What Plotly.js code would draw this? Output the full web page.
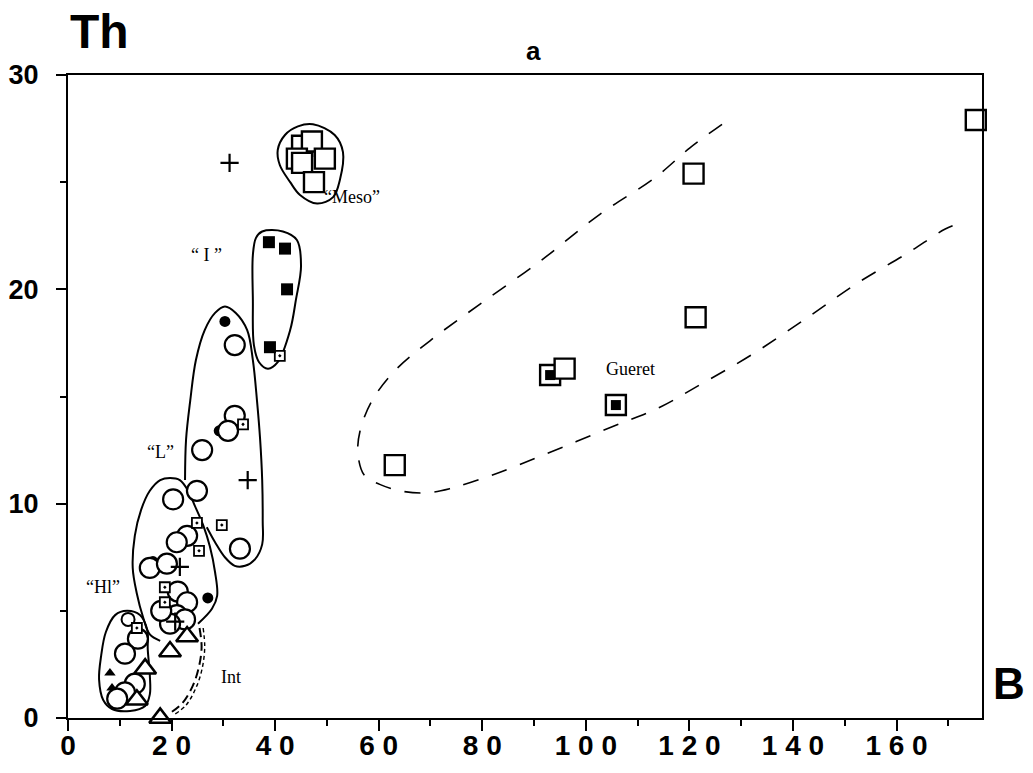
<!DOCTYPE html>
<html>
<head>
<meta charset="utf-8">
<script src="https://cdn.plot.ly/plotly-3.0.1.min.js"></script>
<style>html,body{margin:0;padding:0;background:#fff;}#chart{width:1033px;height:773px;}</style>
</head>
<body>
<div id="chart"></div>
<script>
// ---- data (B on x, Th on y) ----
var xTickVals = [0, 20, 40, 60, 80, 100, 120, 140, 160];
var xTickText = ["0", "2 0", "4 0", "6 0", "8 0", "1 0 0", "1 2 0", "1 4 0", "1 6 0"];
var yTickVals = [0, 10, 20, 30];
var yTickText = ["0", "10", "20", "30"];

// open circles
var circleX = [32.2, 32.2, 30.9, 25.9, 20.3, 24.9, 23.0, 21.0, 33.2, 15.8, 19.1, 21.2, 23.0, 21.0, 22.6, 19.7, 13.5, 11.0, 12.9, 11.0, 9.5, 18.0];
var circleY = [17.4, 14.1, 13.4, 12.5, 10.2, 10.6, 8.5, 8.2, 7.9, 7.0, 7.2, 5.9, 5.4, 4.8, 4.6, 4.4, 3.7, 3.0, 1.6, 1.2, 0.9, 5.0];
var smallCircleX = [11.6];
var smallCircleY = [4.6];
// filled circles
var dotX = [30.3, 29.2, 16.4, 27.0, 17.5];
var dotY = [18.5, 13.4, 7.3, 5.6, 5.1];
// small squares with centre dot
var sqDotX = [40.9, 33.8, 24.9, 29.7, 25.3, 18.7, 18.7, 13.3];
var sqDotY = [16.9, 13.7, 9.1, 9.0, 7.8, 6.1, 5.4, 4.2];
// open triangles
var triX = [23.0, 19.7, 14.9, 13.3, 17.8];
var triY = [3.8, 3.1, 2.3, 0.85, 0.0];
// filled triangles
var triFillX = [8.1, 8.5, 8.7];
var triFillY = [2.1, 1.4, 0.8];
// plus signs
var plusX = [31.2, 34.7, 21.6, 20.7];
var plusY = [25.9, 11.1, 7.05, 4.5];
// filled squares
var fillSqX = [38.8, 41.9, 42.3, 39.0];
var fillSqY = [22.2, 21.9, 20.0, 17.3];
// open squares
var openSqX = [45.2, 47.1, 44.2, 45.2, 49.6, 47.5, 63.1, 95.9, 120.8, 121.2, 175.3];
var openSqY = [26.7, 26.9, 26.1, 25.9, 26.1, 25.0, 11.8, 16.3, 25.4, 18.7, 27.9];
// squares with a filled square inside (Gueret)
var gueretX = [93.1, 105.8];
var gueretY = [16.0, 14.6];

// ---- group outlines (data units) ----
var mesoOutX = [47.3, 51.5, 53.1, 52.5, 51.2, 48.1, 44.8, 42.9, 40.9, 40.5, 41.9, 44.4, 47.3];
var mesoOutY = [27.7, 27.2, 26.4, 25.1, 24.3, 24.0, 24.4, 25.0, 25.8, 26.5, 27.2, 27.6, 27.7];
var sqOutX = [37.5, 41.5, 44.2, 45.0, 44.0, 42.9, 40.5, 38.6, 36.9, 35.9, 35.7, 35.7, 36.3, 37.5];
var sqOutY = [22.7, 22.7, 22.3, 21.1, 19.5, 18.1, 16.6, 16.3, 16.6, 17.4, 19.5, 21.6, 22.4, 22.7];
var iOutX = [22.6, 22.8, 23.6, 24.7, 26.4, 28.4, 30.3, 32.4, 34.6, 35.7, 36.5, 37.1, 37.5, 37.6, 37.5, 36.1, 34.2, 32.2, 30.3, 28.4, 26.8];
var iOutY = [11.1, 13.0, 14.8, 16.7, 18.1, 18.9, 19.2, 18.9, 18.1, 16.7, 14.8, 13.0, 11.1, 9.2, 8.1, 7.4, 7.1, 7.1, 7.5, 8.2, 8.9];
var lOutX = [17.8, 15.8, 14.5, 13.3, 12.5, 12.9, 14.1, 15.8, 17.8, 19.7, 21.6, 23.2, 24.5, 26.1, 27.4, 28.4, 28.8, 27.8, 25.1];
var lOutY = [3.6, 3.9, 4.7, 5.8, 7.0, 8.5, 9.7, 10.6, 11.1, 11.2, 11.1, 10.6, 9.9, 9.0, 8.0, 6.8, 5.7, 5.1, 4.4];
var hlOutX = [11.4, 13.9, 15.3, 15.4, 15.8, 15.8, 14.9, 12.0, 8.5, 6.8, 6.0, 6.4, 7.3, 9.1, 11.4];
var hlOutY = [5.0, 4.8, 4.1, 3.2, 2.0, 1.1, 0.56, 0.33, 0.42, 0.84, 1.8, 2.9, 4.0, 4.8, 5.0];
var intAX = [26.1, 26.4, 25.9, 24.7, 22.8, 20.7];
var intAY = [4.2, 3.3, 2.3, 1.4, 0.6, 0.19];
var intBX = [25.4, 25.8, 25.2, 24.0, 22.1, 20.0];
var intBY = [4.2, 3.3, 2.3, 1.45, 0.7, 0.28];
var gueretOutX = [126.3, 120.1, 113.3, 102.7, 91.1, 79.5, 69.9, 63.1, 58.7, 56.4, 56.0, 57.3, 60.2, 64.1, 68.9, 73.7, 81.5, 92.1, 105.2, 114.3, 122.4, 131.7, 142.9, 152.5, 162.2, 169.3, 172.2];
var gueretOutY = [27.7, 26.6, 25.2, 23.5, 21.3, 19.3, 17.6, 16.2, 14.8, 13.4, 12.3, 11.3, 10.9, 10.6, 10.5, 10.7, 11.3, 12.3, 13.6, 14.5, 15.6, 16.9, 18.7, 20.3, 21.7, 22.8, 23.1];

// ---- labels ----
var groupLabels = ["“Meso”", "“ I ”", "“L”", "“Hl”", "Gueret", "Int"];
var groupLabelX = [54.8, 26.8, 17.8, 6.8, 108.7, 31.5];
var groupLabelY = [24.3, 21.6, 12.4, 6.1, 16.3, 1.9];

// ---- build ----
var BLACK = "#000";
function outline(x, y, dash, w) {
  return {x: x, y: y, type: "scatter", mode: "lines", hoverinfo: "skip",
    line: {color: BLACK, width: w || 2, shape: "spline", smoothing: 1, dash: dash || "solid"},
    cliponaxis: false};
}
function pts(x, y, symbol, size, fill, lw) {
  return {x: x, y: y, type: "scatter", mode: "markers", cliponaxis: false,
    marker: {symbol: symbol, size: size, color: fill, line: {color: BLACK, width: lw}}};
}
var traces = [
  outline(mesoOutX, mesoOutY),
  outline(sqOutX, sqOutY),
  outline(iOutX, iOutY),
  outline(lOutX, lOutY),
  outline(hlOutX, hlOutY),
  outline(intAX, intAY, "4px,3px", 1.4),
  outline(intBX, intBY, "9px,5px", 2),
  outline(gueretOutX, gueretOutY, "16px,14px", 1.6),
  pts(dotX, dotY, "circle", 11, BLACK, 0),
  pts(triFillX, triFillY, "triangle-up", 10, BLACK, 0),
  pts(circleX, circleY, "circle", 20, "#fff", 2.2),
  pts(smallCircleX, smallCircleY, "circle", 13, "#fff", 2),
  pts(triX, triY, "triangle-up", 19, "#fff", 2.6),
  pts(sqDotX, sqDotY, "square-dot", 10, "#fff", 1.8),
  pts(plusX, plusY, "cross-thin-open", 13, BLACK, 2.2),
  pts(fillSqX, fillSqY, "square", 12, BLACK, 0),
  pts(gueretX, gueretY, "square", 20, "#fff", 2.4),
  pts(gueretX, gueretY, "square", 10, BLACK, 0),
  pts(openSqX, openSqY, "square", 20, "#fff", 2.4)
];

var annotations = [
  {text: "Th", xref: "paper", yref: "paper", x: 0.035, y: 1.067, xanchor: "center", yanchor: "middle", showarrow: false,
   font: {family: "Liberation Sans, Arial, sans-serif", size: 48, color: BLACK, weight: "bold"}},
  {text: "a", xref: "paper", yref: "paper", x: 0.509, y: 1.038, xanchor: "center", yanchor: "middle", showarrow: false,
   font: {family: "Liberation Sans, Arial, sans-serif", size: 26, color: BLACK, weight: "bold"}},
  {text: "B", xref: "paper", yref: "paper", x: 1.029, y: 0.053, xanchor: "center", yanchor: "middle", showarrow: false,
   font: {family: "Liberation Sans, Arial, sans-serif", size: 44, color: BLACK, weight: "bold"}}
];
for (var i = 0; i < groupLabels.length; i++) {
  annotations.push({text: groupLabels[i], x: groupLabelX[i], y: groupLabelY[i], xref: "x", yref: "y",
    showarrow: false, font: {family: "Liberation Serif, Times New Roman, serif", size: 18, color: BLACK}});
}

var layout = {
  width: 1033, height: 773,
  margin: {l: 68, r: 51, t: 75, b: 55},
  paper_bgcolor: "#fff", plot_bgcolor: "#fff",
  showlegend: false,
  xaxis: {
    range: [0, 176.5], tickvals: xTickVals, ticktext: xTickText,
    showline: true, mirror: true, linecolor: BLACK, linewidth: 2,
    ticks: "outside", ticklen: 11, tickwidth: 2, tickcolor: BLACK,
    minor: {dtick: 10, tick0: 0, ticks: "outside", ticklen: 6, tickwidth: 2, tickcolor: BLACK},
    showgrid: false, zeroline: false, ticklabelstandoff: -10,
    tickfont: {family: "Liberation Sans, Arial, sans-serif", size: 28, color: BLACK, weight: "bold"}
  },
  yaxis: {
    range: [0, 30], tickvals: yTickVals, ticktext: yTickText,
    showline: true, mirror: true, linecolor: BLACK, linewidth: 2,
    ticks: "outside", ticklen: 10, tickwidth: 2, tickcolor: BLACK,
    minor: {dtick: 5, tick0: 0, ticks: "outside", ticklen: 6, tickwidth: 2, tickcolor: BLACK},
    showgrid: false, zeroline: false, ticklabelstandoff: 12,
    tickfont: {family: "Liberation Sans, Arial, sans-serif", size: 27, color: BLACK, weight: "bold"}
  },
  annotations: annotations
};
Plotly.newPlot("chart", traces, layout, {staticPlot: true, displayModeBar: false});
</script>
</body>
</html>
